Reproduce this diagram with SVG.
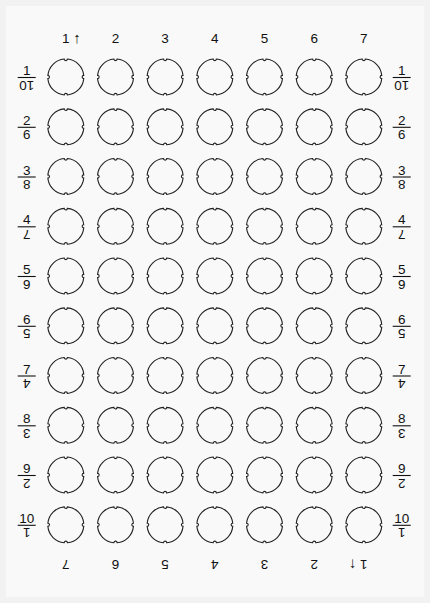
<svg xmlns="http://www.w3.org/2000/svg" xmlns:xlink="http://www.w3.org/1999/xlink" width="430" height="603" viewBox="0 0 430 603">
<style>
.t{font-family:"Liberation Sans",Arial,sans-serif;font-size:13.5px;fill:#111}
.m{text-anchor:middle}
.a{font-size:15px}
.h{fill:none;stroke:#222;stroke-width:1.1}
.ln{stroke:#111;stroke-width:1.1}
</style>
<defs>
<path id="hole" d="M-1.6,-17.93 A1.6 1.6 0 0 0 1.6,-17.93 A18 18 0 0 1 17.93,-1.6 A1.6 1.6 0 0 0 17.93,1.6 A18 18 0 0 1 1.6,17.93 A1.6 1.6 0 0 0 -1.6,17.93 A18 18 0 0 1 -17.93,1.6 A1.6 1.6 0 0 0 -17.93,-1.6 A18 18 0 0 1 -1.6,-17.93 Z"/>
</defs>
<rect x="0" y="0" width="430" height="603" fill="#f2f2f2"/>
<rect x="6" y="6" width="418" height="591" fill="#f9f9f9"/>

<g id="col-labels-top" class="t">
<text x="62" y="42.5">1 <tspan class="a">↑</tspan></text>
<text class="m" x="115.5" y="42.5">2</text>
<text class="m" x="165.1" y="42.5">3</text>
<text class="m" x="214.8" y="42.5">4</text>
<text class="m" x="264.5" y="42.5">5</text>
<text class="m" x="314.2" y="42.5">6</text>
<text class="m" x="363.8" y="42.5">7</text>
</g>
<g id="col-labels-bottom" class="t">
<text class="m" transform="translate(65.8,560) rotate(180)">7</text>
<text class="m" transform="translate(115.5,560) rotate(180)">6</text>
<text class="m" transform="translate(165.1,560) rotate(180)">5</text>
<text class="m" transform="translate(214.8,560) rotate(180)">4</text>
<text class="m" transform="translate(264.5,560) rotate(180)">3</text>
<text class="m" transform="translate(314.2,560) rotate(180)">2</text>
<text x="-3.8" transform="translate(363.8,560) rotate(180)">1 <tspan class="a">↑</tspan></text>
</g>

<g id="row-labels-left" class="t">
<g id="L1"><text class="m" x="26.7" y="75">1</text><line class="ln" x1="17.7" y1="77.5" x2="35.7" y2="77.5"/><text class="m" transform="translate(26.7,80.5) rotate(180)">10</text></g>
<g id="L2"><text class="m" x="26.7" y="124.8">2</text><line class="ln" x1="17.7" y1="127.3" x2="35.7" y2="127.3"/><text class="m" transform="translate(26.7,130.3) rotate(180)">9</text></g>
<g id="L3"><text class="m" x="26.7" y="174.5">3</text><line class="ln" x1="17.7" y1="177" x2="35.7" y2="177"/><text class="m" transform="translate(26.7,180) rotate(180)">8</text></g>
<g id="L4"><text class="m" x="26.7" y="224.3">4</text><line class="ln" x1="17.7" y1="226.8" x2="35.7" y2="226.8"/><text class="m" transform="translate(26.7,229.8) rotate(180)">7</text></g>
<g id="L5"><text class="m" x="26.7" y="274">5</text><line class="ln" x1="17.7" y1="276.5" x2="35.7" y2="276.5"/><text class="m" transform="translate(26.7,279.5) rotate(180)">6</text></g>
<g id="L6"><text class="m" x="26.7" y="323.8">6</text><line class="ln" x1="17.7" y1="326.3" x2="35.7" y2="326.3"/><text class="m" transform="translate(26.7,329.3) rotate(180)">5</text></g>
<g id="L7"><text class="m" x="26.7" y="373.5">7</text><line class="ln" x1="17.7" y1="376" x2="35.7" y2="376"/><text class="m" transform="translate(26.7,379) rotate(180)">4</text></g>
<g id="L8"><text class="m" x="26.7" y="423.3">8</text><line class="ln" x1="17.7" y1="425.8" x2="35.7" y2="425.8"/><text class="m" transform="translate(26.7,428.8) rotate(180)">3</text></g>
<g id="L9"><text class="m" x="26.7" y="473">9</text><line class="ln" x1="17.7" y1="475.5" x2="35.7" y2="475.5"/><text class="m" transform="translate(26.7,478.5) rotate(180)">2</text></g>
<g id="L10"><text class="m" x="26.7" y="522.8">10</text><line class="ln" x1="17.7" y1="525.3" x2="35.7" y2="525.3"/><text class="m" transform="translate(26.7,528.3) rotate(180)">1</text></g>
</g>

<g id="row-labels-right" class="t">
<g id="R1"><text class="m" x="401.7" y="75">1</text><line class="ln" x1="392.7" y1="77.5" x2="410.7" y2="77.5"/><text class="m" transform="translate(401.7,80.5) rotate(180)">10</text></g>
<g id="R2"><text class="m" x="401.7" y="124.8">2</text><line class="ln" x1="392.7" y1="127.3" x2="410.7" y2="127.3"/><text class="m" transform="translate(401.7,130.3) rotate(180)">9</text></g>
<g id="R3"><text class="m" x="401.7" y="174.5">3</text><line class="ln" x1="392.7" y1="177" x2="410.7" y2="177"/><text class="m" transform="translate(401.7,180) rotate(180)">8</text></g>
<g id="R4"><text class="m" x="401.7" y="224.3">4</text><line class="ln" x1="392.7" y1="226.8" x2="410.7" y2="226.8"/><text class="m" transform="translate(401.7,229.8) rotate(180)">7</text></g>
<g id="R5"><text class="m" x="401.7" y="274">5</text><line class="ln" x1="392.7" y1="276.5" x2="410.7" y2="276.5"/><text class="m" transform="translate(401.7,279.5) rotate(180)">6</text></g>
<g id="R6"><text class="m" x="401.7" y="323.8">6</text><line class="ln" x1="392.7" y1="326.3" x2="410.7" y2="326.3"/><text class="m" transform="translate(401.7,329.3) rotate(180)">5</text></g>
<g id="R7"><text class="m" x="401.7" y="373.5">7</text><line class="ln" x1="392.7" y1="376" x2="410.7" y2="376"/><text class="m" transform="translate(401.7,379) rotate(180)">4</text></g>
<g id="R8"><text class="m" x="401.7" y="423.3">8</text><line class="ln" x1="392.7" y1="425.8" x2="410.7" y2="425.8"/><text class="m" transform="translate(401.7,428.8) rotate(180)">3</text></g>
<g id="R9"><text class="m" x="401.7" y="473">9</text><line class="ln" x1="392.7" y1="475.5" x2="410.7" y2="475.5"/><text class="m" transform="translate(401.7,478.5) rotate(180)">2</text></g>
<g id="R10"><text class="m" x="401.7" y="522.8">10</text><line class="ln" x1="392.7" y1="525.3" x2="410.7" y2="525.3"/><text class="m" transform="translate(401.7,528.3) rotate(180)">1</text></g>
</g>

<g id="holes" class="h">
<g id="r1"><use href="#hole" x="65.8" y="77"/><use href="#hole" x="115.5" y="77"/><use href="#hole" x="165.1" y="77"/><use href="#hole" x="214.8" y="77"/><use href="#hole" x="264.5" y="77"/><use href="#hole" x="314.2" y="77"/><use href="#hole" x="363.8" y="77"/></g>
<g id="r2"><use href="#hole" x="65.8" y="126.8"/><use href="#hole" x="115.5" y="126.8"/><use href="#hole" x="165.1" y="126.8"/><use href="#hole" x="214.8" y="126.8"/><use href="#hole" x="264.5" y="126.8"/><use href="#hole" x="314.2" y="126.8"/><use href="#hole" x="363.8" y="126.8"/></g>
<g id="r3"><use href="#hole" x="65.8" y="176.5"/><use href="#hole" x="115.5" y="176.5"/><use href="#hole" x="165.1" y="176.5"/><use href="#hole" x="214.8" y="176.5"/><use href="#hole" x="264.5" y="176.5"/><use href="#hole" x="314.2" y="176.5"/><use href="#hole" x="363.8" y="176.5"/></g>
<g id="r4"><use href="#hole" x="65.8" y="226.3"/><use href="#hole" x="115.5" y="226.3"/><use href="#hole" x="165.1" y="226.3"/><use href="#hole" x="214.8" y="226.3"/><use href="#hole" x="264.5" y="226.3"/><use href="#hole" x="314.2" y="226.3"/><use href="#hole" x="363.8" y="226.3"/></g>
<g id="r5"><use href="#hole" x="65.8" y="276"/><use href="#hole" x="115.5" y="276"/><use href="#hole" x="165.1" y="276"/><use href="#hole" x="214.8" y="276"/><use href="#hole" x="264.5" y="276"/><use href="#hole" x="314.2" y="276"/><use href="#hole" x="363.8" y="276"/></g>
<g id="r6"><use href="#hole" x="65.8" y="325.8"/><use href="#hole" x="115.5" y="325.8"/><use href="#hole" x="165.1" y="325.8"/><use href="#hole" x="214.8" y="325.8"/><use href="#hole" x="264.5" y="325.8"/><use href="#hole" x="314.2" y="325.8"/><use href="#hole" x="363.8" y="325.8"/></g>
<g id="r7"><use href="#hole" x="65.8" y="375.5"/><use href="#hole" x="115.5" y="375.5"/><use href="#hole" x="165.1" y="375.5"/><use href="#hole" x="214.8" y="375.5"/><use href="#hole" x="264.5" y="375.5"/><use href="#hole" x="314.2" y="375.5"/><use href="#hole" x="363.8" y="375.5"/></g>
<g id="r8"><use href="#hole" x="65.8" y="425.3"/><use href="#hole" x="115.5" y="425.3"/><use href="#hole" x="165.1" y="425.3"/><use href="#hole" x="214.8" y="425.3"/><use href="#hole" x="264.5" y="425.3"/><use href="#hole" x="314.2" y="425.3"/><use href="#hole" x="363.8" y="425.3"/></g>
<g id="r9"><use href="#hole" x="65.8" y="475"/><use href="#hole" x="115.5" y="475"/><use href="#hole" x="165.1" y="475"/><use href="#hole" x="214.8" y="475"/><use href="#hole" x="264.5" y="475"/><use href="#hole" x="314.2" y="475"/><use href="#hole" x="363.8" y="475"/></g>
<g id="r10"><use href="#hole" x="65.8" y="524.8"/><use href="#hole" x="115.5" y="524.8"/><use href="#hole" x="165.1" y="524.8"/><use href="#hole" x="214.8" y="524.8"/><use href="#hole" x="264.5" y="524.8"/><use href="#hole" x="314.2" y="524.8"/><use href="#hole" x="363.8" y="524.8"/></g>
</g>
</svg>
